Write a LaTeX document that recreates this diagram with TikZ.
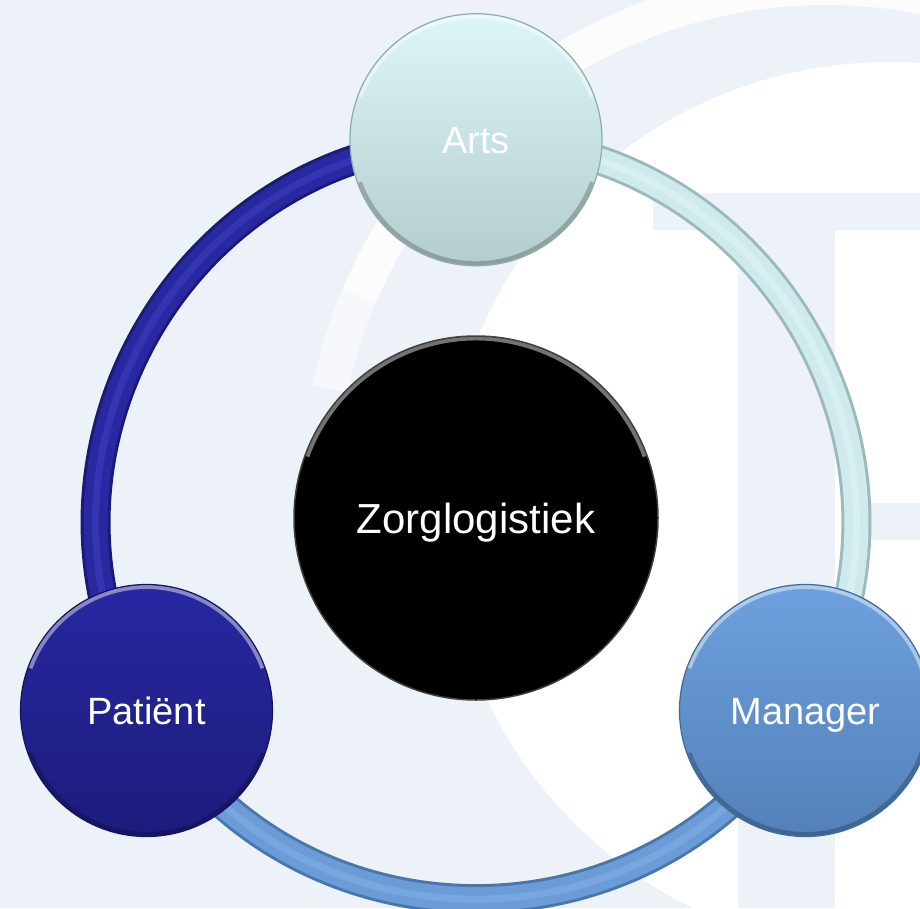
\documentclass[tikz,border=0pt]{standalone}
\usepackage{fontspec}
\setmainfont{Liberation Sans}
\usetikzlibrary{backgrounds}

\definecolor{bgpage}{HTML}{EDF1F8}
\definecolor{artstop}{HTML}{DDF7F9}
\definecolor{artsbot}{HTML}{B3CCCC}
\definecolor{artsrim}{HTML}{8FAAAA}
\definecolor{pattop}{HTML}{2727A2}
\definecolor{patbot}{HTML}{1C1C7C}
\definecolor{patrim}{HTML}{14145E}
\definecolor{mantop}{HTML}{6DA1DF}
\definecolor{manbot}{HTML}{5380B8}
\definecolor{manrim}{HTML}{3F6A9E}
\definecolor{darkedge}{HTML}{1A1A78}
\definecolor{darkmain}{HTML}{2828A0}
\definecolor{darkhi}{HTML}{4A4ACC}
\definecolor{lightedge}{HTML}{9CBABB}
\definecolor{lightmain}{HTML}{CFEAEC}
\definecolor{lighthi}{HTML}{E6FBFC}
\definecolor{midedge}{HTML}{4A76AE}
\definecolor{midmain}{HTML}{6B9CD8}
\definecolor{midhi}{HTML}{8CB8EA}

\begin{document}
\begin{tikzpicture}[x=1pt, y=-1pt, bevel/.style={path picture={\draw[white, draw opacity=.45, line width=4pt] (path picture bounding box.center) ++(200:#1) arc[start angle=200, end angle=340, radius=#1]; \draw[black, draw opacity=.22, line width=4pt] (path picture bounding box.center) ++(20:#1) arc[start angle=20, end angle=160, radius=#1];}}, role/.style n args={3}{circle, minimum size=252pt, inner sep=0pt, top color=#1, bottom color=#2, draw=#3, line width=1.2pt, bevel=123.5, text=white, text height=27pt, text depth=0pt, font=\fontsize{38}{44}\selectfont}, tube/.style n args={3}{line width=24pt, draw=#2, preaction={draw=#1, line width=30pt}, postaction={draw=#3, draw opacity=.4, line width=7pt}}]
            \useasboundingbox (0,0) rectangle (920,908);
            % nodes
            \node[role={artstop}{artsbot}{artsrim}] (arts) at (476,139.75) {Arts};
            \node[role={pattop}{patbot}{patrim}] (patient) at (146.5,710.5) {Patiënt};
            \node[role={mantop}{manbot}{manrim}] (manager) at (805.5,710.5) {Manager};
            \node[circle, minimum size=364pt, inner sep=0pt, fill=black, draw=black!75, line width=1.5pt, bevel=179.5, text=white, text height=30pt, text depth=0pt, font=\fontsize{42}{50}\selectfont] (zorg) at (476,518) {Zorglogistiek};
            \begin{scope}[on background layer]
                \clip (0,0) rectangle (920,908);
                % page and watermark
                \fill[bgpage] (0,0) rectangle (920,908);
                \fill[white] (890,508) circle (446);
                \draw[white, draw opacity=.85, line width=36pt] (826,494) ++(203:507) arc[start angle=203, end angle=282, radius=507];
                \draw[white, draw opacity=.5, line width=36pt] (826,494) ++(192:507) arc[start angle=192, end angle=203, radius=507];
                \fill[bgpage] (653,193) rectangle (920,230);
                \fill[bgpage] (738,193) rectangle (835,908);
                \fill[bgpage] (868,503) rectangle (920,540);
                % edges
                \draw[tube={darkedge}{darkmain}{darkhi}] (arts.center) to[bend right=60, looseness=1.13] (patient.center);
                \draw[tube={midedge}{midmain}{midhi}] (patient.center) to[bend right=60, looseness=1.13] (manager.center);
                \draw[tube={lightedge}{lightmain}{lighthi}] (manager.center) to[bend right=60, looseness=1.13] (arts.center);
            \end{scope}
        \end{tikzpicture}
\end{document}
